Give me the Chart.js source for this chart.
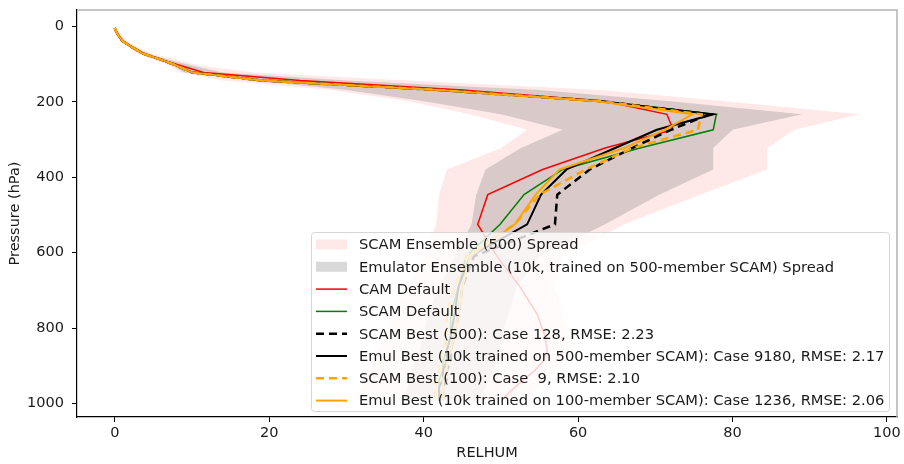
<!DOCTYPE html>
<html>
<head>
<meta charset="utf-8">
<script src="https://cdn.jsdelivr.net/npm/chart.js@4.4.1/dist/chart.umd.min.js"></script>
<style>
  html, body { margin: 0; padding: 0; background: #ffffff; }
  #wrap { width: 904px; height: 464px; position: relative; }
</style>
</head>
<body>
<div id="wrap"><canvas id="c" width="904" height="464"></canvas></div>
<script>
// ---- data ----
const pressure = [3.64, 7.59, 14.36, 24.61, 38.27, 54.6, 72.01, 87.82, 103.32, 121.55, 142.99, 168.23, 197.91, 232.83, 273.91, 322.24, 379.1, 445.99, 524.69, 609.78, 691.39, 763.4, 820.86, 859.53, 887.02, 912.64, 936.2, 957.49, 976.33, 992.56];

const scamSpreadMin = [0.0, 0.0, 0.1, 0.3, 0.7, 1.8, 3.0, 5.0, 7.0, 8.5, 14, 28, 38, 46, 53.4, 50, 43, 42, 41.6, 40, 38, 36, 35, 34, 34, 33, 32, 32, 31, 31];
const scamSpreadMax = [0.1, 0.2, 0.5, 1.0, 1.6, 3.0, 5.0, 8.0, 11, 18, 38, 63, 79, 96.5, 88, 84.5, 84.5, 75.8, 66, 58, 57, 58, 59, 59, 58, 57, 56, 55, 54, 53];
const emuSpreadMin = [0.0, 0.0, 0.1, 0.3, 0.8, 2.0, 3.3, 5.5, 7.5, 9.0, 18, 30, 40, 50, 58, 52.6, 48, 46.8, 46.2, 44, 42, 40.5, 40, 39.5, 39, 38.5, 38, 38, 37.5, 37];
const emuSpreadMax = [0.05, 0.1, 0.3, 0.7, 1.3, 2.6, 4.3, 7.0, 10, 14, 30, 55, 72, 89, 80, 77.5, 77.5, 70.5, 63.5, 55, 52, 51, 50, 50, 49.5, 49, 48.5, 48, 47.5, 47];

const camDefault  = [0.0, 0.05, 0.2, 0.5, 1.0, 2.3, 3.8, 6.0, 8.5, 11.5, 24, 45, 63.5, 71.5, 72.3, 63.5, 55.4, 48.3, 47.0, 49.5, 52.5, 54.7, 55.7, 56.0, 55.5, 54.4, 53.0, 51.8, 50.8, 50.1];
const scamDefault = [0.0, 0.05, 0.2, 0.5, 1.0, 2.2, 3.7, 6.0, 8.0, 10.0, 19, 42, 63, 77.9, 77.5, 68, 58, 53, 49.9, 45.5, 44.5, 43.5, 43.5, 43, 42.5, 42.5, 42, 42, 42, 42];
const scamBest500 = [0.0, 0.05, 0.2, 0.5, 1.0, 2.2, 3.7, 6.0, 8.0, 10.0, 19, 42, 63, 77.0, 72.0, 67, 61.5, 57.3, 57.0, 46.5, 45, 44.5, 44, 43.5, 43.5, 43, 43, 42.5, 42.5, 42.5];
const emulBest500 = [0.0, 0.05, 0.2, 0.5, 1.0, 2.2, 3.7, 6.0, 8.0, 10.0, 19, 42, 63, 77.5, 70.2, 64.8, 58.5, 55.2, 53.4, 46, 44.5, 44, 43.5, 43, 43, 42.5, 42.5, 42, 42, 42];
const scamBest100 = [0.0, 0.05, 0.2, 0.5, 1.0, 2.2, 3.7, 6.0, 8.0, 10.0, 19, 42, 63, 76.0, 75.5, 67, 61, 55, 51.8, 45.5, 44, 43, 43, 42.5, 42, 42, 41.5, 41.5, 41.5, 41.5];
const emulBest100 = [0.0, 0.05, 0.2, 0.5, 1.0, 2.2, 3.7, 6.0, 8.0, 10.0, 19, 42, 62.5, 74.8, 71.2, 66, 57.6, 54.5, 51.8, 46, 45, 44.5, 44, 43.5, 43, 43, 42.5, 42.5, 42.5, 42.5];

const xTicks = [0, 20, 40, 60, 80, 100];
const yTicks = [0, 200, 400, 600, 800, 1000];

const labels = [
  'SCAM Ensemble (500) Spread',
  'Emulator Ensemble (10k, trained on 500-member SCAM) Spread',
  'CAM Default',
  'SCAM Default',
  'SCAM Best (500): Case 128, RMSE: 2.23',
  'Emul Best (10k trained on 500-member SCAM): Case 9180, RMSE: 2.17',
  'SCAM Best (100): Case  9, RMSE: 2.10',
  'Emul Best (10k trained on 100-member SCAM): Case 1236, RMSE: 2.06'
];

// ---- build datasets ----
function profile(vals) { return vals.map((v, i) => ({ x: v, y: pressure[i] })); }
function polygon(minV, maxV) {
  const pts = maxV.map((v, i) => ({ x: v, y: pressure[i] }));
  for (let i = minV.length - 1; i >= 0; i--) pts.push({ x: minV[i], y: pressure[i] });
  return pts;
}

const PINK = 'rgba(255,0,0,0.09)';
const GREY = 'rgba(128,128,128,0.30)';

const datasets = [
  { label: labels[0], data: polygon(scamSpreadMin, scamSpreadMax), showLine: true, fill: 'shape',
    backgroundColor: PINK, borderColor: 'rgba(0,0,0,0)', borderWidth: 0, pointRadius: 0, order: 20, kind: 'patch' },
  { label: labels[1], data: polygon(emuSpreadMin, emuSpreadMax), showLine: true, fill: 'shape',
    backgroundColor: GREY, borderColor: 'rgba(0,0,0,0)', borderWidth: 0, pointRadius: 0, order: 19, kind: 'patch' },
  { label: labels[2], data: profile(camDefault), borderColor: 'red', borderWidth: 1.5, order: 8 },
  { label: labels[3], data: profile(scamDefault), borderColor: 'green', borderWidth: 1.5, order: 7 },
  { label: labels[4], data: profile(scamBest500), borderColor: 'black', borderWidth: 2.5, borderDash: [8, 5], order: 6 },
  { label: labels[5], data: profile(emulBest500), borderColor: 'black', borderWidth: 2, order: 5 },
  { label: labels[6], data: profile(scamBest100), borderColor: 'orange', borderWidth: 2.5, borderDash: [8, 5], order: 4 },
  { label: labels[7], data: profile(emulBest100), borderColor: 'orange', borderWidth: 2, order: 3 }
];
datasets.forEach(d => {
  d.showLine = true; d.pointRadius = 0; d.tension = 0;
  if (d.fill === undefined) d.fill = false;
  if (!d.backgroundColor) d.backgroundColor = d.borderColor;
});

const FONT = 'DejaVu Sans';

// matplotlib-style legend drawn inside the plot, over the data
const mplLegend = {
  id: 'mplLegend',
  afterDatasetsDraw(chart) {
    const ctx = chart.ctx;
    const box = { x: 311, y: 232, w: 578, h: 179 };
    ctx.save();
    ctx.beginPath();
    if (ctx.roundRect) ctx.roundRect(box.x + 0.5, box.y + 0.5, box.w, box.h, 3); else ctx.rect(box.x + 0.5, box.y + 0.5, box.w, box.h);
    ctx.fillStyle = 'rgba(255,255,255,0.8)';
    ctx.fill();
    ctx.strokeStyle = '#d6d6d6';
    ctx.lineWidth = 1;
    ctx.stroke();
    ctx.font = '14.7px "' + FONT + '"';
    ctx.textBaseline = 'middle';
    ctx.fillStyle = '#1a1a1a';
    const rowH = 22.3, y0 = 244.5, hx0 = 316, hx1 = 347, tx = 359;
    chart.data.datasets.forEach((d, i) => {
      const cy = y0 + i * rowH;
      if (d.kind === 'patch') {
        ctx.fillStyle = d.backgroundColor;
        ctx.fillRect(hx0, cy - 5, hx1 - hx0, 10);
      } else {
        ctx.beginPath();
        ctx.setLineDash(d.borderDash || []);
        ctx.strokeStyle = d.borderColor;
        ctx.lineWidth = d.borderWidth;
        ctx.moveTo(hx0, cy); ctx.lineTo(hx1, cy);
        ctx.stroke();
        ctx.setLineDash([]);
      }
      ctx.fillStyle = '#1a1a1a';
      ctx.fillText(d.label, tx, cy + 1);
    });
    ctx.restore();
  },
  afterDraw(chart) {
    const {ctx, chartArea: a} = chart;
    ctx.save();
    ctx.strokeStyle = '#b4b4b4';
    ctx.lineWidth = 1.5;
    ctx.beginPath();
    ctx.moveTo(a.left, a.top); ctx.lineTo(a.right, a.top); ctx.lineTo(a.right, a.bottom);
    ctx.stroke();
    ctx.restore();
  }
};

new Chart(document.getElementById('c'), {
  type: 'scatter',
  data: { datasets },
  options: {
    responsive: false,
    animation: false,
    devicePixelRatio: 1,
    layout: { padding: { top: 10, right: 7, left: 0, bottom: 0 } },
    plugins: { legend: { display: false }, tooltip: { enabled: false } },
    scales: {
      x: {
        type: 'linear', min: -4.9, max: 101.3,
        afterBuildTicks: s => { s.ticks = xTicks.map(v => ({ value: v })); },
        afterFit: s => { s.height = 47; s.paddingLeft = 0; s.paddingRight = 0; },
        grid: { display: true, drawOnChartArea: false, drawTicks: true, tickLength: 5, color: '#000', tickWidth: 1 },
        border: { display: true, color: '#000', width: 1.2 },
        ticks: { color: '#1a1a1a', font: { family: FONT, size: 14.5 }, padding: 3, maxRotation: 0, callback: v => String(v) },
        title: { display: true, text: 'RELHUM', color: '#1a1a1a', font: { family: FONT, size: 14.5 }, padding: { top: 0, bottom: 2 } }
      },
      y: {
        type: 'linear', reverse: true, min: -44, max: 1036,
        afterBuildTicks: s => { s.ticks = yTicks.map(v => ({ value: v })); },
        afterFit: s => { s.width = 77; s.paddingTop = 0; s.paddingBottom = 0; },
        grid: { display: true, drawOnChartArea: false, drawTicks: true, tickLength: 5, color: '#000', tickWidth: 1 },
        border: { display: true, color: '#000', width: 1.2 },
        ticks: { color: '#1a1a1a', font: { family: FONT, size: 14.5 }, padding: 8, callback: v => String(v) },
        title: { display: true, text: 'Pressure (hPa)', color: '#1a1a1a', font: { family: FONT, size: 14.5 }, padding: { top: 7, bottom: 0 } }
      }
    }
  },
  plugins: [mplLegend]
});
</script>
</body>
</html>
